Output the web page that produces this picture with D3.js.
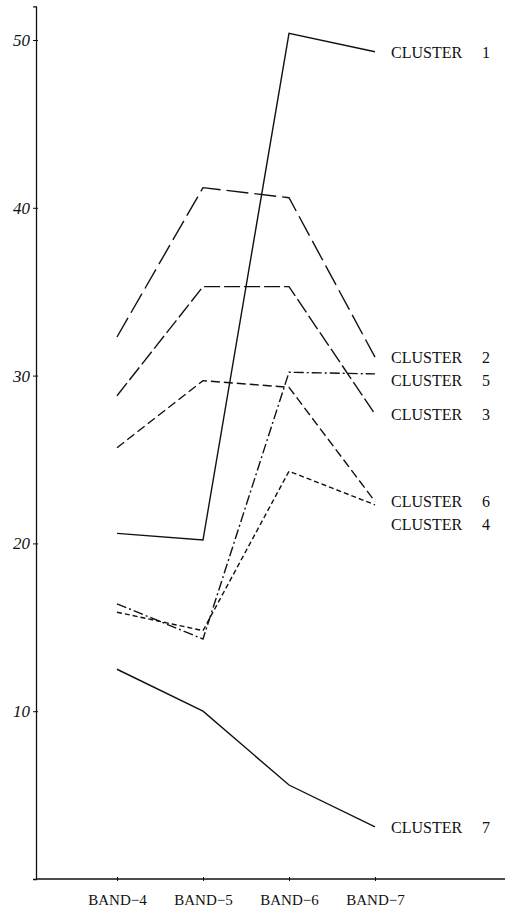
<!DOCTYPE html>
<html>
<head>
<meta charset="utf-8">
<script src="https://cdn.jsdelivr.net/npm/d3@7"></script>
<style>
  body { margin: 0; background: #fff; }
  text { font-family: "Liberation Serif", "DejaVu Serif", serif; fill: #111; }
</style>
</head>
<body>
<svg id="datavis"></svg>
<script>
// data
const BANDS = ['BAND\u22124', 'BAND\u22125', 'BAND\u22126', 'BAND\u22127'];
const CLUSTERS = ['1', '2', '3', '4', '5', '6', '7'];
const cluster1 = [20.6, 20.2, 50.4, 49.3];
const cluster2 = [32.3, 41.2, 40.6, 31.1];
const cluster3 = [28.8, 35.3, 35.3, 27.7];
const cluster4 = [15.9, 14.8, 24.3, 22.3];
const cluster5 = [16.4, 14.3, 30.2, 30.1];
const cluster6 = [25.7, 29.7, 29.3, 22.5];
const cluster7 = [12.5, 10.0, 5.6, 3.1];
const Y_TICKS = [10, 20, 30, 40, 50];

// dash pattern for each cluster
const DASHES = [null, '22,6', '16,4', '5,3', '10,3,2,3', '9,4', null];

const WIDTH = 505
const HEIGHT = 910
const SVG = d3.select('#datavis').attr('width', WIDTH).attr('height', HEIGHT)

const AXIS_X = 36;
const AXIS_Y = 879;

const series = [cluster1, cluster2, cluster3, cluster4, cluster5, cluster6, cluster7]
  .map((vals, i) => ({ name: CLUSTERS[i], dash: DASHES[i], values: vals }));

let xScale = d3.scalePoint()
  .domain(BANDS)
  .range([117, 375]);

let yScale = d3.scaleLinear()
  .domain([0, 52])
  .range([AXIS_Y, AXIS_Y - 52 * 16.78]);

// y axis
let y_axis = d3.axisLeft(yScale)
  .tickValues(Y_TICKS)
  .tickSize(3)
  .tickPadding(3)
  .tickFormat(d3.format('d'));
let yG = SVG.append('g')
  .attr('transform', 'translate(' + AXIS_X + ',0)')
  .call(y_axis);
yG.select('.domain').attr('stroke', '#111').attr('stroke-width', 1.3);
yG.selectAll('.tick line').attr('stroke', '#111').attr('x2', 2).attr('x1', -3);
yG.selectAll('.tick text').style('font-size', '17px').style('font-style', 'italic').attr('fill', '#111');

// x axis, frame line runs to the right edge
let x_axis = d3.axisBottom(xScale)
  .tickSize(2)
  .tickPadding(13);
let xG = SVG.append('g')
  .attr('transform', 'translate(0,' + AXIS_Y + ')')
  .call(x_axis);
xG.select('.domain').remove();
xG.append('line')
  .attr('x1', AXIS_X).attr('x2', WIDTH)
  .attr('stroke', '#111').attr('stroke-width', 1.3);
xG.selectAll('.tick line').attr('stroke', '#111').attr('y1', -2);
xG.selectAll('.tick text').style('font-size', '15px').attr('fill', '#111');

// the lines
let line = d3.line()
  .x((d, i) => xScale(BANDS[i]))
  .y(d => yScale(d));

SVG.append('g')
  .selectAll('path')
  .data(series)
  .enter()
  .append('path')
  .attr('d', d => line(d.values))
  .attr('fill', 'none')
  .attr('stroke', '#111')
  .attr('stroke-width', 1.4)
  .attr('stroke-dasharray', d => d.dash);

// labels at the right end, pushed apart so they dont overlap
let labels = series.map(s => ({ name: s.name, y: yScale(s.values[3]) + 6 }))
  .sort((a, b) => a.y - b.y);
for (let i = 1; i < labels.length; i++) {
  if (labels[i].y < labels[i - 1].y + 23) labels[i].y = labels[i - 1].y + 23;
}

let lab = SVG.append('g').selectAll('g')
  .data(labels)
  .enter()
  .append('g');
lab.append('text')
  .attr('x', 391)
  .attr('y', d => d.y)
  .style('font-size', '16px')
  .text('CLUSTER');
lab.append('text')
  .attr('x', 482)
  .attr('y', d => d.y)
  .style('font-size', '16px')
  .text(d => d.name);
</script>
</body>
</html>
